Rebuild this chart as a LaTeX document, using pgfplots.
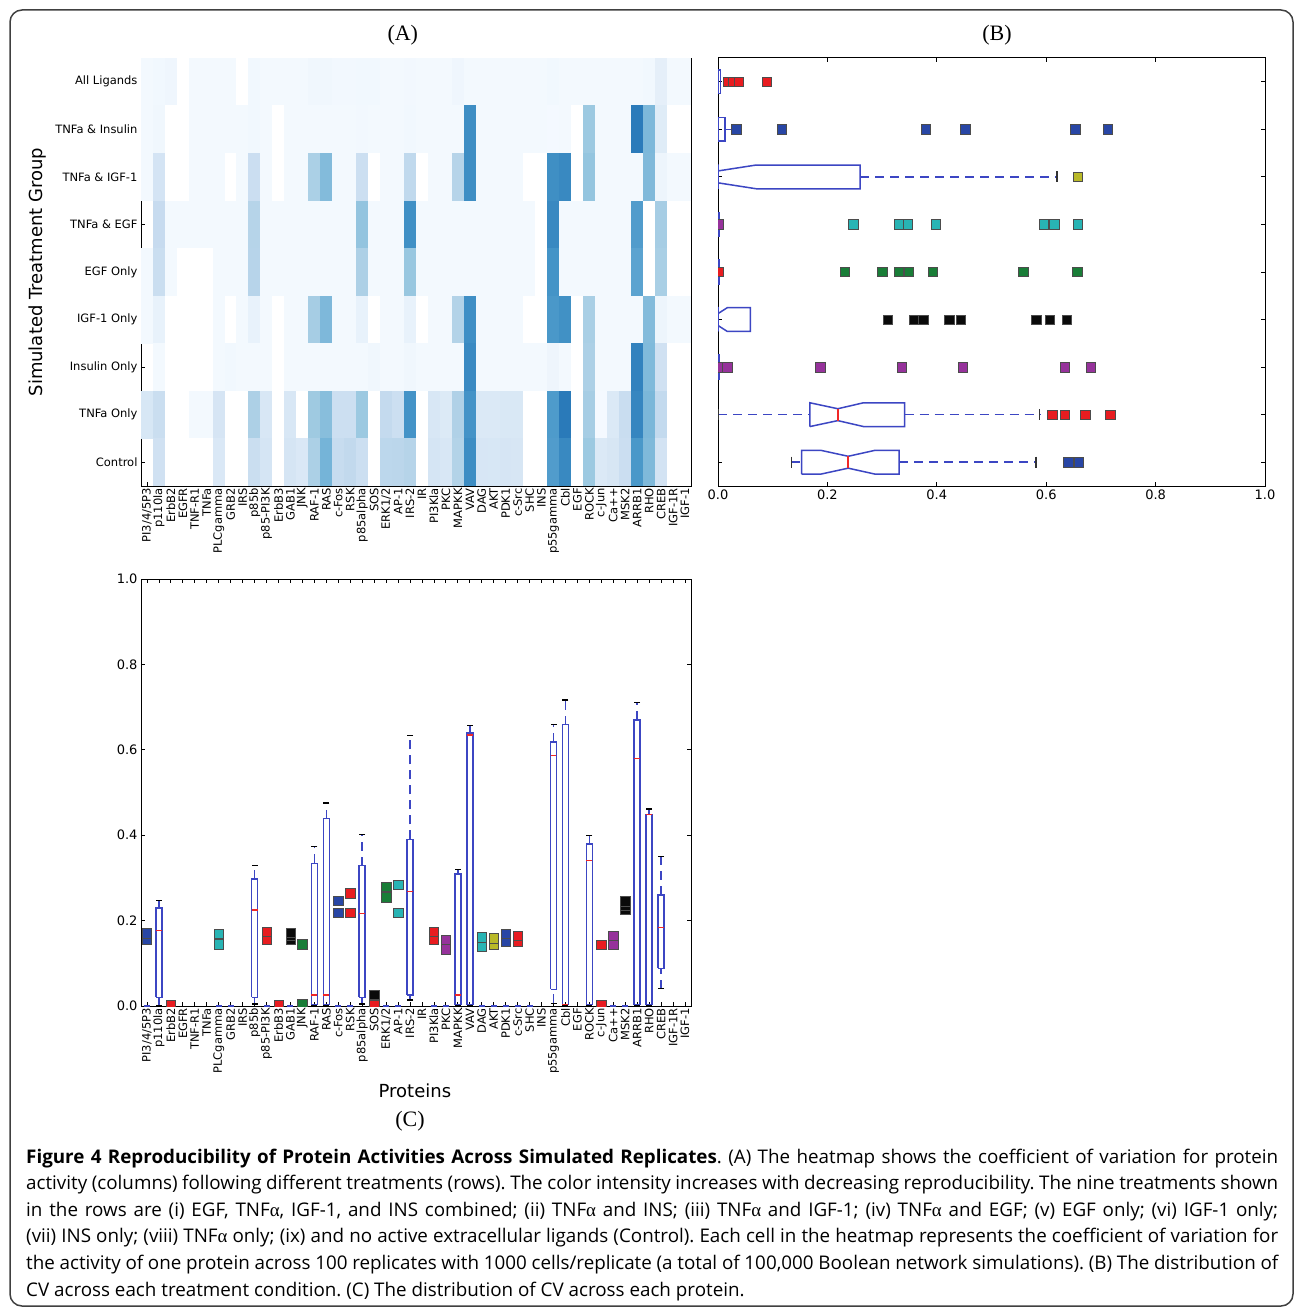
\documentclass[border=0pt]{standalone}
\usepackage{fontspec}
\usepackage{pgfplots}
\pgfplotsset{compat=1.18}
\setmainfont{DejaVu Sans}
\newfontfamily\dv{DejaVu Sans}
\newfontfamily\osans{Open Sans}
\newfontfamily\lserif{Liberation Serif}
\newcommand\dvs{\dv\fontsize{11.5}{13}\selectfont}
\newcommand\dvm{\dv\fontsize{13}{15}\selectfont}
\newcommand\al{{\lserif α}}
\newcommand\capf{\osans\fontsize{18.8}{22}\selectfont\frenchspacing}
\definecolor{bxb}{RGB}{60,70,195}
\definecolor{mred}{RGB}{240,40,40}
\definecolor{fr}{RGB}{232,28,32}
\definecolor{fb}{RGB}{40,70,165}
\definecolor{fc}{RGB}{40,180,180}
\definecolor{fg}{RGB}{25,125,55}
\definecolor{fm}{RGB}{150,50,155}
\definecolor{fy}{RGB}{185,185,40}
\definecolor{fk}{RGB}{10,10,10}
\pgfdeclareplotmark{hcell}{\pgfpathrectangle{\pgfpoint{-6.15pt}{-23.95pt}}{\pgfpoint{12.3pt}{47.9pt}}\pgfusepathqfill}
\pgfplotsset{
  mpl/.style={scale only axis, tick align=inside, major tick length=4pt,
    axis line style={line width=1pt}, every tick/.style={black, line width=0.8pt},
    ticklabel style={font=\dvs}},
  boxl/.style={draw=bxb, line width=1.5pt},
  medl/.style={draw=mred, line width=1.5pt},
  whl/.style={draw=bxb, line width=1.5pt, dash pattern=on 9pt off 6pt},
  hcap/.style={only marks, mark=|, mark size=5.5pt, mark options={draw=black!80, line width=1.4pt}},
  vcap/.style={only marks, mark=-, mark size=3pt, mark options={draw=black, line width=1.4pt}},
  fl/.style={only marks, mark=square*, mark size=4.7pt, mark options={fill=#1, draw=gray!60!black, line width=0.5pt}},
}
\newcommand\cbox[8]{%
  \addplot[whl] coordinates {(#2,#4) (#2,#5)};
  \addplot[whl] coordinates {(#2,#7) (#2,#8)};
  \addplot[boxl] coordinates {(#1,#5) (#3,#5) (#3,#7) (#1,#7) (#1,#5)};
  \addplot[medl] coordinates {(#1,#6) (#3,#6)};
  \addplot[vcap] coordinates {(#2,#4) (#2,#8)};
}
\begin{document}
\begin{tikzpicture}
\useasboundingbox (0pt,0pt) rectangle (1295pt,-1308pt);
\fill[white] (0pt,0pt) rectangle (1295pt,-1308pt);
\draw[line width=1.5pt, rounded corners=12pt, black!75] (10pt,-10pt) rectangle (1293pt,-1306pt);

% ---------------- (A) heatmap
\begin{axis}[mpl, at={(141pt,-58pt)}, anchor=north west, width=550pt, height=428pt,
  xmin=-0.5, xmax=45.5, ymin=-0.5, ymax=8.5, y dir=reverse,
  xtick={0,...,45},
  xticklabels={PI3/4/5P3,p110la,ErbB2,EGFR,TNF-R1,TNFa,PLCgamma,GRB2,IRS,p85b,p85-PI3K,ErbB3,GAB1,JNK,RAF-1,RAS,c-Fos,RSK,p85alpha,SOS,ERK1/2,AP-1,IRS-2,IR,PI3Kla,PKC,MAPKK,VAV,DAG,AKT,PDK1,c-Src,SHC,INS,p55gamma,Cbl,EGF,ROCK,c-Jun,Ca++,MSK2,ARRB1,RHO,CREB,IGF-1R,IGF-1},
  xticklabel style={rotate=90, anchor=east, inner sep=2pt},
  ytick={0,...,8},
  yticklabels={All Ligands,TNFa \& Insulin,TNFa \& IGF-1,TNFa \& EGF,EGF Only,IGF-1 Only,Insulin Only,TNFa Only,Control},
  colormap={hm}{rgb255(0cm)=(255,255,255); rgb255(3.9cm)=(255,255,255); rgb255(5cm)=(245,250,255); rgb255(17.5cm)=(222,235,247); rgb255(30cm)=(198,219,239); rgb255(42.5cm)=(158,202,225); rgb255(55cm)=(107,174,214); rgb255(67.5cm)=(66,146,198); rgb255(80cm)=(33,113,181); rgb255(92.5cm)=(8,81,156); rgb255(105cm)=(8,48,107)},
  point meta min=-0.05, point meta max=1,
  ylabel={Simulated Treatment Group},
  ylabel style={at={(axis description cs:-0.189,0.5)}, anchor=center, font=\dv\fontsize{18}{20}\selectfont},
  title={\lserif\fontsize{22}{24}\selectfont (A)}, title style={at={(axis description cs:0.476,1.0)}, anchor=south, yshift=3pt}]
\addplot[scatter, only marks, mark=hcell, point meta=explicit, scatter/use mapped color={draw=mapped color, fill=mapped color}] table[row sep=\\, x expr={mod(\coordindex,46)}, y expr={floor(\coordindex/46)}, meta=c] {
c\\
0.01\\0.02\\0.03\\-0.03\\0.01\\0.01\\0.01\\0.01\\-0.03\\0.02\\0.01\\0.01\\0.01\\0.01\\0.026\\0.026\\0.015\\0.015\\0.02\\0.02\\0.01\\0.01\\0.014\\0.01\\0.01\\0.01\\0.03\\0.01\\0.01\\0.01\\0.01\\0.01\\0.01\\0.01\\0.02\\0.01\\0.01\\0.01\\0.01\\0.01\\0.01\\0.01\\0.02\\0.088\\0.01\\0.01\\
0.01\\0.025\\-0.03\\-0.03\\0.01\\0.01\\0.01\\0.01\\0.01\\0.02\\0.01\\-0.03\\0.01\\0.01\\0.01\\0.01\\0.01\\0.01\\0.015\\0.01\\0.01\\0.01\\0.02\\0.01\\0.01\\0.01\\0.01\\0.64\\0.01\\0.01\\0.01\\0.01\\0.01\\0.01\\0.006\\0.01\\-0.03\\0.38\\0.01\\0.01\\0.01\\0.711\\0.455\\0.12\\-0.03\\-0.03\\
0.01\\0.177\\-0.03\\-0.03\\0.01\\0.01\\0.01\\-0.03\\0.01\\0.225\\0.01\\-0.03\\0.01\\0.01\\0.334\\0.44\\0.01\\0.01\\0.22\\-0.03\\0.01\\0.01\\0.268\\-0.03\\0.01\\0.01\\0.30\\0.639\\0.01\\0.01\\0.01\\0.01\\-0.03\\-0.03\\0.637\\0.66\\-0.03\\0.399\\0.01\\0.01\\0.01\\0.01\\0.449\\0.041\\0.01\\0.01\\
0.01\\0.247\\0.01\\0.01\\0.01\\0.01\\0.01\\0.01\\0.01\\0.30\\0.01\\0.01\\0.01\\0.01\\0.01\\0.01\\0.01\\0.01\\0.401\\0.01\\0.01\\0.01\\0.634\\0.01\\0.01\\0.01\\0.01\\0.01\\0.01\\0.01\\0.01\\0.01\\0.01\\-0.03\\0.659\\0.01\\0.01\\0.01\\0.01\\0.01\\0.01\\0.58\\-0.03\\0.35\\-0.03\\-0.03\\
0.01\\0.229\\0.01\\-0.03\\-0.03\\-0.03\\0.01\\0.01\\0.01\\0.298\\0.01\\0.01\\0.01\\0.01\\0.01\\0.01\\0.01\\0.01\\0.329\\0.01\\0.01\\0.01\\0.39\\0.01\\0.01\\0.01\\0.01\\0.01\\0.01\\0.01\\0.01\\0.01\\0.01\\-0.03\\0.618\\0.01\\0.01\\0.01\\0.01\\0.01\\0.01\\0.55\\-0.03\\0.34\\-0.03\\-0.03\\
0.01\\0.07\\-0.03\\-0.03\\-0.03\\-0.03\\0.01\\-0.03\\0.01\\0.07\\0.01\\-0.03\\0.01\\0.01\\0.35\\0.454\\0.01\\0.01\\0.07\\-0.03\\0.01\\0.01\\0.07\\-0.03\\0.01\\0.01\\0.309\\0.635\\0.01\\0.01\\0.01\\0.01\\-0.03\\-0.03\\0.60\\0.63\\-0.03\\0.34\\0.01\\0.01\\0.01\\0.01\\0.44\\0.045\\0.01\\0.01\\
0.01\\0.01\\-0.03\\-0.03\\-0.03\\-0.03\\0.01\\0.02\\0.01\\0.01\\0.01\\-0.03\\0.01\\0.01\\0.01\\0.01\\0.01\\0.01\\0.01\\0.026\\0.01\\0.01\\0.026\\0.01\\0.01\\0.01\\0.01\\0.657\\0.01\\0.01\\0.01\\0.01\\0.01\\0.01\\0.039\\0.01\\-0.03\\0.33\\0.01\\0.01\\0.01\\0.686\\0.448\\0.20\\-0.03\\-0.03\\
0.17\\0.23\\-0.03\\-0.03\\0.01\\0.01\\0.169\\-0.03\\-0.03\\0.329\\0.155\\-0.03\\0.155\\-0.03\\0.373\\0.43\\0.219\\0.219\\0.38\\-0.03\\0.255\\0.219\\0.62\\-0.03\\0.155\\0.133\\0.32\\0.62\\0.139\\0.143\\0.152\\0.151\\-0.03\\-0.03\\0.587\\0.717\\-0.03\\0.35\\0.005\\0.143\\0.235\\0.67\\0.461\\0.26\\-0.03\\-0.03\\
0.16\\0.20\\-0.03\\-0.03\\-0.03\\-0.03\\0.145\\-0.03\\-0.03\\0.23\\0.174\\-0.03\\0.172\\0.145\\0.33\\0.475\\0.246\\0.264\\0.217\\-0.03\\0.28\\0.284\\0.30\\-0.03\\0.174\\0.155\\0.309\\0.645\\0.161\\0.159\\0.169\\0.164\\-0.03\\-0.03\\0.58\\0.659\\-0.03\\0.379\\0.143\\0.164\\0.225\\0.60\\0.45\\0.184\\-0.03\\-0.03\\
};
\end{axis}

% ---------------- (B) boxplots per treatment
\begin{axis}[mpl, at={(718pt,-58pt)}, anchor=north west, width=547pt, height=428pt,
  xmin=0, xmax=1, ymin=0.5, ymax=9.5, clip marker paths=true,
  xtick={0,0.2,0.4,0.6,0.8,1}, xticklabels={0.0,0.2,0.4,0.6,0.8,1.0},
  xticklabel style={font=\dvm},
  ytick={1,...,9}, yticklabels={},
  title={\lserif\fontsize{22}{24}\selectfont (B)}, title style={at={(axis description cs:0.51,1.0)}, anchor=south, yshift=3pt}]
\addplot[boxl] coordinates {(0,8.75) (0.005,8.75) (0.005,9.25) (0,9.25) (0,8.75)};
\addplot[whl] coordinates {(0.013,8) (0.028,8)};
\addplot[hcap] coordinates {(0.028,8)};
\addplot[boxl] coordinates {(0,7.75) (0.013,7.75) (0.013,8.25) (0,8.25) (0,7.75)};
\addplot[whl] coordinates {(0.26,7) (0.62,7)};
\addplot[hcap] coordinates {(0.62,7)};
\addplot[boxl] coordinates {(0,6.75) (0,7.25) (-0.07,7.25) (0,7.125) (0.07,7.25) (0.26,7.25) (0.26,6.75) (0.07,6.75) (0,6.875) (-0.07,6.75) (0,6.75)};
\addplot[boxl] coordinates {(0,5.75) (0.003,5.75) (0.003,6.25) (0,6.25) (0,5.75)};
\addplot[boxl] coordinates {(0,4.75) (0.003,4.75) (0.003,5.25) (0,5.25) (0,4.75)};
\addplot[boxl] coordinates {(0,3.75) (0,4.25) (-0.017,4.25) (0,4.125) (0.017,4.25) (0.059,4.25) (0.059,3.75) (0.017,3.75) (0,3.875) (-0.017,3.75) (0,3.75)};
\addplot[boxl] coordinates {(0,2.75) (0.003,2.75) (0.003,3.25) (0,3.25) (0,2.75)};
\addplot[whl] coordinates {(0,2) (0.168,2)};
\addplot[whl] coordinates {(0.341,2) (0.588,2)};
\addplot[hcap] coordinates {(0,2) (0.588,2)};
\addplot[boxl] coordinates {(0.168,1.75) (0.168,2.25) (0.219,2.125) (0.266,2.25) (0.341,2.25) (0.341,1.75) (0.266,1.75) (0.219,1.875) (0.168,1.75)};
\addplot[medl] coordinates {(0.219,1.875) (0.219,2.125)};
\addplot[whl] coordinates {(0.134,1) (0.153,1)};
\addplot[whl] coordinates {(0.331,1) (0.581,1)};
\addplot[hcap] coordinates {(0.134,1) (0.581,1)};
\addplot[boxl] coordinates {(0.153,0.75) (0.153,1.25) (0.188,1.25) (0.238,1.125) (0.287,1.25) (0.331,1.25) (0.331,0.75) (0.287,0.75) (0.238,0.875) (0.188,0.75) (0.153,0.75)};
\addplot[medl] coordinates {(0.238,0.875) (0.238,1.125)};
\addplot[fl=fr] coordinates {(0.018,9) (0.028,9) (0.038,9) (0.089,9) (0.611,2) (0.634,2) (0.671,2) (0.717,2) (0.001,5)};
\addplot[fl=fb] coordinates {(0.033,8) (0.116,8) (0.38,8) (0.452,8) (0.653,8) (0.712,8) (0.64,1) (0.66,1)};
\addplot[fl=fy] coordinates {(0.658,7)};
\addplot[fl=fc] coordinates {(0.247,6) (0.33,6) (0.347,6) (0.398,6) (0.596,6) (0.615,6) (0.658,6)};
\addplot[fl=fm] coordinates {(0.001,6) (0.008,3) (0.017,3) (0.187,3) (0.336,3) (0.447,3) (0.634,3) (0.681,3)};
\addplot[fl=fg] coordinates {(0.232,5) (0.30,5) (0.33,5) (0.349,5) (0.393,5) (0.558,5) (0.657,5)};
\addplot[fl=fk] coordinates {(0.31,4) (0.358,4) (0.375,4) (0.423,4) (0.444,4) (0.582,4) (0.607,4) (0.637,4)};
\end{axis}

% ---------------- (C) boxplots per protein
\begin{axis}[mpl, at={(141pt,-579pt)}, anchor=north west, width=550pt, height=427pt,
  xmin=-0.5, xmax=45.5, ymin=0, ymax=1, clip marker paths=true,
  xtick={0,...,45},
  xticklabels={PI3/4/5P3,p110la,ErbB2,EGFR,TNF-R1,TNFa,PLCgamma,GRB2,IRS,p85b,p85-PI3K,ErbB3,GAB1,JNK,RAF-1,RAS,c-Fos,RSK,p85alpha,SOS,ERK1/2,AP-1,IRS-2,IR,PI3Kla,PKC,MAPKK,VAV,DAG,AKT,PDK1,c-Src,SHC,INS,p55gamma,Cbl,EGF,ROCK,c-Jun,Ca++,MSK2,ARRB1,RHO,CREB,IGF-1R,IGF-1},
  xticklabel style={rotate=90, anchor=east, inner sep=2pt},
  ytick={0,0.2,0.4,0.6,0.8,1}, yticklabels={0.0,0.2,0.4,0.6,0.8,1.0},
  yticklabel style={font=\dvm},
  xlabel={Proteins},
  xlabel style={at={(axis description cs:0.498,-0.199)}, anchor=center, font=\dv\fontsize{18}{20}\selectfont}]
\cbox{0.75}{1}{1.25}{0}{0.02}{0.177}{0.229}{0.247}
\cbox{8.75}{9}{9.25}{0.005}{0.02}{0.225}{0.298}{0.329}
\cbox{13.75}{14}{14.25}{0}{0.003}{0.026}{0.334}{0.373}
\cbox{14.75}{15}{15.25}{0}{0.003}{0.026}{0.439}{0.475}
\cbox{17.75}{18}{18.25}{0.005}{0.02}{0.217}{0.329}{0.401}
\cbox{21.75}{22}{22.25}{0.014}{0.026}{0.268}{0.39}{0.634}
\cbox{25.75}{26}{26.25}{0}{0.003}{0.026}{0.309}{0.32}
\cbox{26.75}{27}{27.25}{0}{0.003}{0.635}{0.639}{0.657}
\cbox{33.75}{34}{34.25}{0.006}{0.039}{0.587}{0.618}{0.659}
\cbox{34.75}{35}{35.25}{0}{0.003}{0.003}{0.659}{0.717}
\cbox{36.75}{37}{37.25}{0}{0.003}{0.341}{0.379}{0.399}
\cbox{40.75}{41}{41.25}{0}{0.003}{0.58}{0.67}{0.711}
\cbox{41.75}{42}{42.25}{0}{0.003}{0.448}{0.449}{0.461}
\cbox{42.75}{43}{43.25}{0.041}{0.088}{0.184}{0.26}{0.35}
\addplot[only marks, mark=-, mark size=3pt, mark options={draw=bxb, line width=2pt}] coordinates {(0,0) (6,0) (7,0) (10,0) (12,0) (16,0) (17,0) (20,0) (21,0) (24,0) (25,0) (28,0) (29,0) (30,0) (31,0) (32,0) (39,0) (40,0)};
\addplot[fl=fb] coordinates {(0,0.155) (0,0.17) (16,0.219) (16,0.246) (30,0.152) (30,0.169)};
\addplot[fl=fc] coordinates {(6,0.145) (6,0.169) (21,0.219) (21,0.284) (28,0.139) (28,0.161)};
\addplot[fl=fr] coordinates {(10,0.155) (10,0.174) (17,0.219) (17,0.264) (24,0.155) (24,0.174) (31,0.151) (31,0.164) (38,0.143) (2,0.002) (11,0.002) (19,0.002) (38,0.002)};
\addplot[fl=fk] coordinates {(12,0.155) (12,0.165) (12,0.172) (19,0.026) (40,0.225) (40,0.235) (40,0.245)};
\addplot[fl=fg] coordinates {(13,0.145) (13,0.004) (20,0.255) (20,0.28)};
\addplot[fl=fm] coordinates {(25,0.133) (25,0.155) (39,0.143) (39,0.164)};
\addplot[fl=fy] coordinates {(29,0.143) (29,0.159)};
\end{axis}

\node at (410pt,-1121pt) {\lserif\fontsize{22}{24}\selectfont (C)};

% ---------------- caption
\begin{scope}[every node/.style={anchor=base west, inner sep=0pt}]
\node at (26pt,-1163pt) {\capf\makebox[1252pt][s]{\textbf{Figure 4 Reproducibility of Protein Activities Across Simulated Replicates}. (A) The heatmap shows the coefficient of variation for protein}};
\node at (26pt,-1189.6pt) {\capf\makebox[1252pt][s]{activity (columns) following different treatments (rows). The color intensity increases with decreasing reproducibility. The nine treatments shown}};
\node at (26pt,-1216.2pt) {\capf\makebox[1252pt][s]{in the rows are (i) EGF, TNF\al, IGF-1, and INS combined; (ii) TNF\al{} and INS; (iii) TNF\al{} and IGF-1; (iv) TNF\al{} and EGF; (v) EGF only; (vi) IGF-1 only;}};
\node at (26pt,-1242.8pt) {\capf\makebox[1252pt][s]{(vii) INS only; (viii) TNF\al{} only; (ix) and no active extracellular ligands (Control). Each cell in the heatmap represents the coefficient of variation for}};
\node at (26pt,-1269.4pt) {\capf\makebox[1252pt][s]{the activity of one protein across 100 replicates with 1000 cells/replicate (a total of 100,000 Boolean network simulations). (B) The distribution of}};
\node at (26pt,-1296pt) {\capf CV across each treatment condition. (C) The distribution of CV across each protein.};
\end{scope}
\end{tikzpicture}
\end{document}
